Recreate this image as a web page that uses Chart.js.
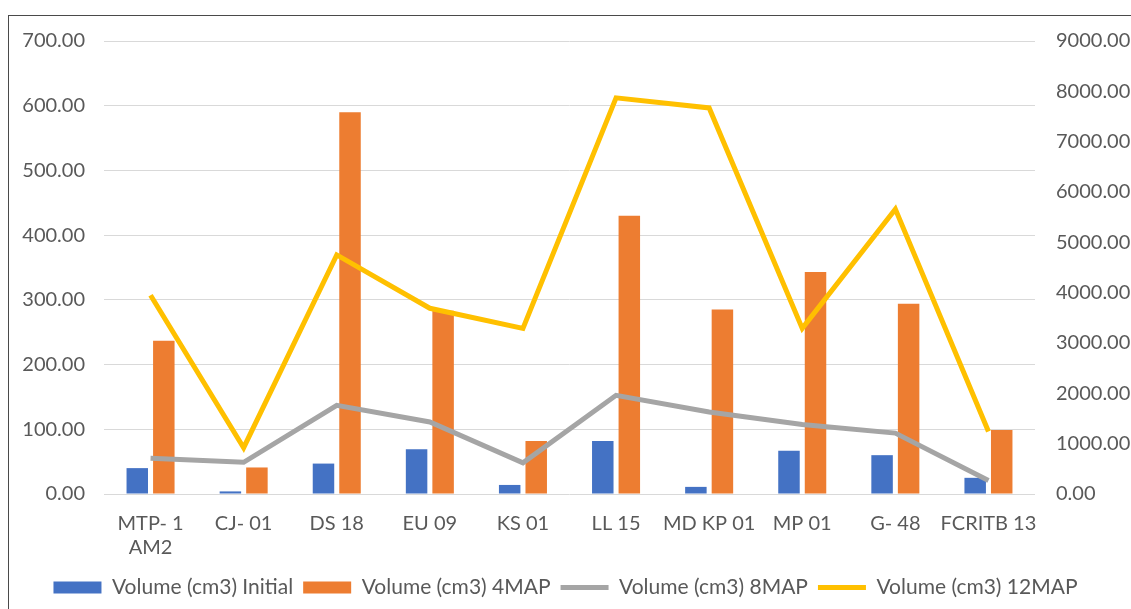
<!DOCTYPE html>
<html lang="en">
<head>
  <meta charset="UTF-8">
  <title>Volume chart</title>
  <style>
    body {
      margin: 0;
      padding: 0;
      background-color: #ffffff;
      overflow: hidden;
    }
    #frame {
      position: absolute;
      left: 8px;
      top: 15px;
      width: 1140px;
      height: 620px;
      border: 1px solid #4a4a4a;
      pointer-events: none;
    }
    canvas {
      position: absolute;
      left: 0;
      top: 0;
    }
  </style>
</head>
<body>
  <canvas id="volumeChart" width="1131" height="609"></canvas>
  <div id="frame"></div>

  <script src="https://cdn.jsdelivr.net/npm/chart.js"></script>
  <script>
    // data
    const samples = [['MTP- 1', 'AM2'], 'CJ- 01', 'DS 18', 'EU 09', 'KS 01', 'LL 15', 'MD KP 01', 'MP 01', 'G- 48', 'FCRITB 13'];
    const volInitial = [40, 4, 47, 69, 14, 82, 11, 67, 60, 25];
    const vol4MAP = [237, 41, 590, 283, 82, 430, 285, 343, 294, 99];
    const vol8MAP = [710, 630, 1760, 1430, 620, 1960, 1630, 1380, 1210, 270];
    const vol12MAP = [3950, 920, 4750, 3690, 3290, 7870, 7670, 3290, 5660, 1240];

    const tickFont = { family: 'Lato', size: 20 };
    const tickColor = '#595959';

    const ctx = document.getElementById('volumeChart').getContext('2d');

    const volumeChart = new Chart(ctx, {
      type: 'bar',
      data: {
        labels: samples,
        datasets: [
          {
            label: 'Volume (cm3) Initial',
            data: volInitial,
            backgroundColor: '#4472C4',
            yAxisID: 'y',
            order: 1,
            categoryPercentage: 0.57,
            barPercentage: 0.81
          },
          {
            label: 'Volume (cm3) 4MAP',
            data: vol4MAP,
            backgroundColor: '#ED7D31',
            yAxisID: 'y',
            order: 1,
            categoryPercentage: 0.57,
            barPercentage: 0.81
          },
          {
            type: 'line',
            label: 'Volume (cm3) 8MAP',
            data: vol8MAP,
            borderColor: '#A5A5A5',
            backgroundColor: '#A5A5A5',
            borderWidth: 5,
            pointRadius: 0,
            tension: 0,
            yAxisID: 'y1',
            order: 0
          },
          {
            type: 'line',
            label: 'Volume (cm3) 12MAP',
            data: vol12MAP,
            borderColor: '#FFC000',
            backgroundColor: '#FFC000',
            borderWidth: 5,
            pointRadius: 0,
            tension: 0,
            yAxisID: 'y1',
            order: 0
          }
        ]
      },
      options: {
        responsive: false,
        devicePixelRatio: 1,
        animation: false,
        layout: {
          padding: { top: 41, left: 0, right: 0, bottom: 1 }
        },
        plugins: {
          tooltip: { enabled: false },
          legend: {
            position: 'bottom',
            labels: {
              font: { family: 'Lato', size: 21 },
              color: tickColor,
              usePointStyle: true,
              pointStyleWidth: 48,
              boxHeight: 12,
              padding: 10,
              sort: (a, b) => a.datasetIndex - b.datasetIndex,
              generateLabels: (chart) => {
                const items = Chart.defaults.plugins.legend.labels.generateLabels(chart);
                items.forEach(item => {
                  const ds = chart.data.datasets[item.datasetIndex];
                  if (ds.type === 'line') {
                    item.pointStyle = 'line';
                    item.lineWidth = 5;
                    item.strokeStyle = ds.borderColor;
                  } else {
                    item.pointStyle = 'rect';
                    item.lineWidth = 0;
                  }
                });
                return items;
              }
            }
          }
        },
        scales: {
          x: {
            grid: { display: false, drawTicks: false },
            border: { display: false },
            ticks: { font: tickFont, color: tickColor, padding: 18, maxRotation: 0, autoSkip: false },
            afterFit: (scale) => { scale.height = 73; }
          },
          y: {
            position: 'left',
            min: 0,
            max: 700,
            ticks: {
              stepSize: 100,
              font: tickFont,
              color: tickColor,
              padding: 19,
              callback: (v) => v.toFixed(2)
            },
            grid: { color: '#D9D9D9', lineWidth: 1, drawTicks: false },
            border: { display: false },
            afterFit: (scale) => { scale.width = 104; }
          },
          y1: {
            position: 'right',
            min: 0,
            max: 9000,
            ticks: {
              stepSize: 1000,
              font: tickFont,
              color: tickColor,
              padding: 21,
              callback: (v) => v.toFixed(2)
            },
            grid: { display: false, drawTicks: false },
            border: { display: false },
            afterFit: (scale) => { scale.width = 96; }
          }
        }
      }
    });
  </script>
</body>
</html>
